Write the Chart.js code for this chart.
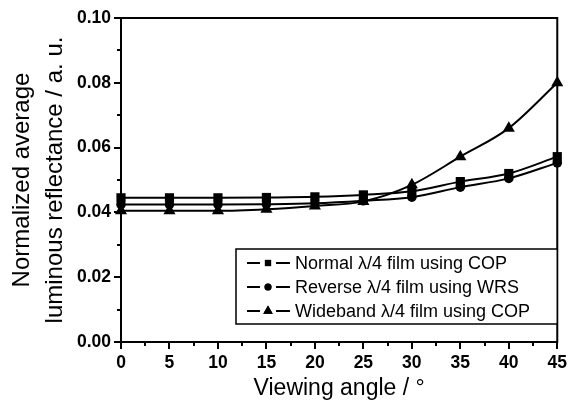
<!DOCTYPE html>
<html>
<head>
<meta charset="utf-8">
<script src="https://cdn.jsdelivr.net/npm/chart.js@4/dist/chart.umd.min.js"></script>
<style>
  html, body { margin: 0; padding: 0; background: #fff; }
  #wrap { width: 571px; height: 404px; }
</style>
</head>
<body>
<div id="wrap"><canvas id="ReflChart" width="571" height="404"></canvas></div>
<script>
// viewing angle (deg) and normalized reflectance
const angles = [0, 5, 10, 15, 20, 25, 30, 35, 40, 45];
const normalCop = [0.0445, 0.0445, 0.0445, 0.0446, 0.0448, 0.0454, 0.0465, 0.0495, 0.0520, 0.0572];
const reverseWrs = [0.0424, 0.0424, 0.0424, 0.0425, 0.0428, 0.0436, 0.0447, 0.0478, 0.0505, 0.0553];
const widebandCop = [0.0405, 0.0405, 0.0405, 0.0410, 0.0420, 0.0434, 0.0485, 0.0572, 0.0660, 0.0800];

const seriesLabels = ["Normal \u03bb/4 film using COP", "Reverse \u03bb/4 film using WRS", "Wideband \u03bb/4 film using COP"];
const seriesMarkers = ["rect", "circle", "triangle"];
const markerSizes = [6.5, 4.8, 7];
const legendSizes = [4.5, 3.5, 5.5];

const xTicks = { min: 0, max: 45, step: 5 };
const yTicks = { min: 0, max: 0.10, step: 0.02 };

function toPoints(values) {
    return angles.map(function (a, i) { return { x: a, y: values[i] }; });
}

function makeSet(i, values) {
    return {
        label: seriesLabels[i],
        data: toPoints(values),
        borderColor: "#000",
        backgroundColor: "#000",
        borderWidth: 2,
        pointStyle: seriesMarkers[i],
        pointRadius: markerSizes[i],
        pointBackgroundColor: "#000",
        pointBorderColor: "#000",
        pointBorderWidth: 0,
        cubicInterpolationMode: "monotone",
        clip: false
    };
}

// frame, minor ticks and the boxed legend
const framePlugin = {
    id: "framePlugin",
    afterDraw(chart) {
        const ctx = chart.ctx;
        const area = chart.chartArea;
        const xs = chart.scales.x;
        const ys = chart.scales.y;
        ctx.save();
        ctx.strokeStyle = "#000";
        ctx.lineWidth = 2;
        ctx.strokeRect(area.left, area.top, area.right - area.left, area.bottom - area.top);

        // minor ticks
        ctx.beginPath();
        for (let v = xTicks.min + xTicks.step / 2; v < xTicks.max; v += xTicks.step) {
            const px = Math.round(xs.getPixelForValue(v));
            ctx.moveTo(px, area.bottom);
            ctx.lineTo(px, area.bottom + 4);
        }
        for (let v = yTicks.min + yTicks.step / 2; v < yTicks.max; v += yTicks.step) {
            const py = Math.round(ys.getPixelForValue(v));
            ctx.moveTo(area.left, py);
            ctx.lineTo(area.left - 4, py);
        }
        ctx.stroke();

        // legend box
        const box = { left: 236, top: 249, right: area.right, bottom: 324 };
        ctx.fillStyle = "#fff";
        ctx.fillRect(box.left, box.top, box.right - box.left, box.bottom - box.top);
        ctx.lineWidth = 1.5;
        ctx.strokeRect(box.left, box.top, box.right - box.left, box.bottom - box.top);

        const rows = [263, 287, 311];
        ctx.font = "18px 'Liberation Sans', Arial, sans-serif";
        ctx.textBaseline = "middle";
        ctx.textAlign = "left";
        chart.data.datasets.forEach(function (ds, i) {
            const y = rows[i];
            ctx.lineWidth = 2;
            ctx.strokeStyle = "#000";
            ctx.beginPath();
            ctx.moveTo(247, y);
            ctx.lineTo(260, y);
            ctx.moveTo(276, y);
            ctx.lineTo(290, y);
            ctx.stroke();
            Chart.helpers.drawPoint(ctx, {
                pointStyle: ds.pointStyle,
                radius: legendSizes[i],
                rotation: 0,
                borderWidth: 0
            }, 268, y);
            ctx.fillStyle = "#000";
            ctx.fill();
            ctx.fillText(ds.label, 295, y + 1);
        });
        ctx.restore();
    }
};

const ReflCtx = document.getElementById("ReflChart").getContext("2d");
const ReflChart = new Chart(ReflCtx, {
    type: "line",
    data: {
        datasets: [
            makeSet(0, normalCop),
            makeSet(1, reverseWrs),
            makeSet(2, widebandCop)
        ]
    },
    options: {
        responsive: false,
        animation: false,
        layout: { padding: { left: 0, right: 11, top: 18, bottom: 0 } },
        plugins: {
            legend: { display: false },
            tooltip: { enabled: false }
        },
        scales: {
            x: {
                type: "linear",
                min: xTicks.min,
                max: xTicks.max,
                afterFit(scale) { scale.height = 62; },
                border: { display: false },
                grid: { display: true, drawOnChartArea: false, drawTicks: true, tickLength: 7, color: "#000", lineWidth: 2 },
                ticks: {
                    stepSize: xTicks.step,
                    color: "#000",
                    padding: 4,
                    maxRotation: 0,
                    font: { family: "'Liberation Sans', Arial, sans-serif", size: 17.5, weight: "bold" }
                },
                title: {
                    display: true,
                    text: "Viewing angle / \u00b0",
                    color: "#000",
                    padding: { top: 0, bottom: 2 },
                    font: { family: "'Liberation Sans', Arial, sans-serif", size: 23 }
                }
            },
            y: {
                min: yTicks.min,
                max: yTicks.max,
                afterFit(scale) { scale.width = 121; },
                border: { display: false },
                grid: { display: true, drawOnChartArea: false, drawTicks: true, tickLength: 7, color: "#000", lineWidth: 2 },
                ticks: {
                    stepSize: yTicks.step,
                    color: "#000",
                    padding: 3,
                    callback: function (v) { return v.toFixed(2); },
                    font: { family: "'Liberation Sans', Arial, sans-serif", size: 17.5, weight: "bold" }
                },
                title: {
                    display: true,
                    text: ["Normalized average", "luminous reflectance / a. u."],
                    color: "#000",
                    padding: { top: 6, bottom: 0 },
                    font: { family: "'Liberation Sans', Arial, sans-serif", size: 24, lineHeight: 1.375 }
                }
            }
        }
    },
    plugins: [framePlugin]
});
</script>
</body>
</html>
